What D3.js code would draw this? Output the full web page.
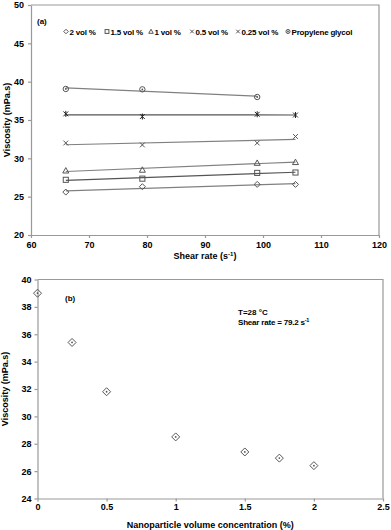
<!DOCTYPE html>
<html><head><meta charset="utf-8">
<script src="https://cdnjs.cloudflare.com/ajax/libs/d3/7.8.5/d3.min.js"></script>
<style>body{margin:0;background:#fff}svg text{font-family:"Liberation Sans",Arial,sans-serif;font-weight:bold;fill:#000}</style>
</head><body><svg id="c" width="391" height="530"></svg>
<script>
// ---- Data, panel (a)
const shearRates = [66, 79.2, 99, 105.6];
const seriesNames = ["2 vol %", "1.5 vol %", "1 vol %", "0.5 vol %", "0.25 vol %", "Propylene glycol"];
const seriesMarkers = ["diamond", "square", "triangle", "cross", "star", "circle"];
const v2 = [25.6, 26.3, 26.6, 26.6];
const v15 = [27.2, 27.35, 28.1, 28.15];
const v1 = [28.4, 28.5, 29.4, 29.5];
const v05 = [32.0, 31.75, 32.0, 32.85];
const v025 = [35.8, 35.45, 35.75, 35.65];
const vPG = [39.05, 39.0, 38.0];
const ticksA_x = [60, 70, 80, 90, 100, 110, 120];
const ticksA_y = [20, 25, 30, 35, 40, 45, 50];
// ---- Data, panel (b)
const concentrations = [0, 0.25, 0.5, 1, 1.5, 1.75, 2];
const viscosityB = [39.0, 35.4, 31.8, 28.5, 27.4, 26.95, 26.4];
const ticksB_x = [0, 0.5, 1, 1.5, 2, 2.5];
const ticksB_y = [24, 26, 28, 30, 32, 34, 36, 38, 40];

const svg = d3.select("#c");
const grey = "#808080";

function marker(g, type, x, y, s) {
  const h = s / 2;
  const st = {stroke: "#555", "stroke-width": 1, fill: "none"};
  const app = (el) => { for (const k in st) el.attr(k, st[k]); return el; };
  if (type === "diamond") {
    app(g.append("path").attr("d", `M${x},${y-h}L${x+h},${y}L${x},${y+h}L${x-h},${y}Z`));
  } else if (type === "diamondDot") {
    app(g.append("path").attr("d", `M${x},${y-h}L${x+h},${y}L${x},${y+h}L${x-h},${y}Z`));
    g.append("circle").attr("cx", x).attr("cy", y).attr("r", 0.9).attr("fill", "#555");
  } else if (type === "square") {
    app(g.append("rect").attr("x", x - h*0.85).attr("y", y - h*0.85).attr("width", s*0.85).attr("height", s*0.85));
  } else if (type === "triangle") {
    app(g.append("path").attr("d", `M${x},${y-h}L${x+h},${y+h*0.8}L${x-h},${y+h*0.8}Z`));
  } else if (type === "cross") {
    app(g.append("path").attr("d", `M${x-h*0.8},${y-h*0.8}L${x+h*0.8},${y+h*0.8}M${x-h*0.8},${y+h*0.8}L${x+h*0.8},${y-h*0.8}`));
  } else if (type === "star") {
    app(g.append("path").attr("d", `M${x-h*0.8},${y-h*0.8}L${x+h*0.8},${y+h*0.8}M${x-h*0.8},${y+h*0.8}L${x+h*0.8},${y-h*0.8}M${x},${y-h}L${x},${y+h}`)).attr("stroke", "#222");
  } else if (type === "circle") {
    app(g.append("circle").attr("cx", x).attr("cy", y).attr("r", h*0.9));
    g.append("circle").attr("cx", x).attr("cy", y).attr("r", 0.9).attr("fill", "#555");
  }
}

function linfit(xs, ys) {
  const n = ys.length, xx = xs.slice(0, n);
  const mx = d3.mean(xx), my = d3.mean(ys);
  let sxy = 0, sxx = 0;
  for (let i = 0; i < n; i++) { sxy += (xx[i]-mx)*(ys[i]-my); sxx += (xx[i]-mx)**2; }
  const b = sxy / sxx, a = my - b*mx;
  return x => a + b*x;
}

function frame(g, x, y) {
  const [x0, x1] = x.range(), [y0, y1] = y.range();
  g.append("path").attr("d", `M${x0},${y1}H${x1}V${y0}`).attr("fill", "none").attr("stroke", "#999").attr("stroke-width", 1.2);
}

function styleAxis(a) {
  a.selectAll("path,line").attr("stroke", "#999").attr("stroke-width", 1.2);
  a.selectAll("text").style("font-size", "9px").style("font-family", "Liberation Sans").style("font-weight", "bold");
}

// ---- Panel (a)
{
  const x = d3.scaleLinear().domain([60, 120]).range([31, 379]);
  const y = d3.scaleLinear().domain([20, 50]).range([235, 5]);
  const g = svg.append("g");
  frame(g, x, y);
  const xa = g.append("g").attr("transform", `translate(0,${y(20)})`)
    .call(d3.axisBottom(x).tickValues(ticksA_x).tickSize(3).tickSizeOuter(0));
  const ya = g.append("g").attr("transform", `translate(${x(60)},0)`)
    .call(d3.axisLeft(y).tickValues(ticksA_y).tickSize(3).tickSizeOuter(0));
  styleAxis(xa); styleAxis(ya);
  xa.selectAll("text").attr("y", 12.5).attr("dy", 0);
  ya.selectAll("text").attr("dx", "-1px");

  const allSeries = [v2, v15, v1, v05, v025, vPG];
  allSeries.forEach((vals, i) => {
    const f = linfit(shearRates, vals);
    const xs = shearRates.slice(0, vals.length);
    const xa0 = xs[0], xa1 = xs[xs.length-1];
    g.append("line").attr("x1", x(xa0)).attr("x2", x(xa1)).attr("y1", y(f(xa0))).attr("y2", y(f(xa1)))
      .attr("stroke", i === 4 || i === 1 ? "#555" : grey).attr("stroke-width", 1.2);
    vals.forEach((v, j) => marker(g, seriesMarkers[i], x(xs[j]), y(v), 6));
  });

  g.append("text").attr("x", 37).attr("y", 24).style("font-size", "8px").text("(a)");
  const legX = [66, 107, 151, 192, 238, 288];
  seriesNames.forEach((n, i) => {
    marker(g, seriesMarkers[i] === "star" ? "cross" : seriesMarkers[i], legX[i], 31.5, 4.5);
    g.append("text").attr("x", legX[i] + 3.5).attr("y", 34.5).style("font-size", "8px")
      .style("letter-spacing", "-0.2px").text(n);
  });
  g.append("text").attr("transform", `translate(10,${(y(20)+y(50))/2}) rotate(-90)`).attr("text-anchor", "middle")
    .style("font-size", "9px").text("Viscosity (mPa.s)");
  const t = g.append("text").attr("x", (x(60)+x(120))/2).attr("y", 259).attr("text-anchor", "middle").style("font-size", "9px");
  t.append("tspan").text("Shear rate (s");
  t.append("tspan").attr("dy", "-3").style("font-size", "6px").text("-1");
  t.append("tspan").attr("dy", "3").text(")");
}

// ---- Panel (b)
{
  const x = d3.scaleLinear().domain([0, 2.5]).range([37.5, 383]);
  const y = d3.scaleLinear().domain([24, 40]).range([498.5, 279.5]);
  const g = svg.append("g");
  frame(g, x, y);
  const xa = g.append("g").attr("transform", `translate(0,${y(24)})`)
    .call(d3.axisBottom(x).tickValues(ticksB_x).tickFormat(d3.format("")).tickSize(3).tickSizeOuter(0));
  const ya = g.append("g").attr("transform", `translate(${x(0)},0)`)
    .call(d3.axisLeft(y).tickValues(ticksB_y).tickSize(3).tickSizeOuter(0));
  styleAxis(xa); styleAxis(ya);
  xa.selectAll("text").attr("y", 11.5).attr("dy", 0);
  ya.selectAll("text").attr("dx", "0px");

  concentrations.forEach((c, i) => marker(g, "diamondDot", x(c), y(viscosityB[i]), 8));

  g.append("text").attr("x", 65).attr("y", 301).style("font-size", "8px").text("(b)");
  g.append("text").attr("x", 238).attr("y", 314.5).style("font-size", "8px").text("T=28 °C");
  const s = g.append("text").attr("x", 238).attr("y", 325).style("font-size", "8px").style("letter-spacing", "-0.2px");
  s.append("tspan").text("Shear rate = 79.2 s");
  s.append("tspan").attr("dy", "-3").style("font-size", "5.5px").text("-1");
  g.append("text").attr("transform", `translate(8,${(y(24)+y(40))/2}) rotate(-90)`).attr("text-anchor", "middle")
    .style("font-size", "9px").text("Viscosity (mPa.s)");
  g.append("text").attr("x", (x(0)+x(2.5))/2).attr("y", 528).attr("text-anchor", "middle").style("font-size", "9px")
    .text("Nanoparticle volume concentration (%)");
}
</script></body></html>
